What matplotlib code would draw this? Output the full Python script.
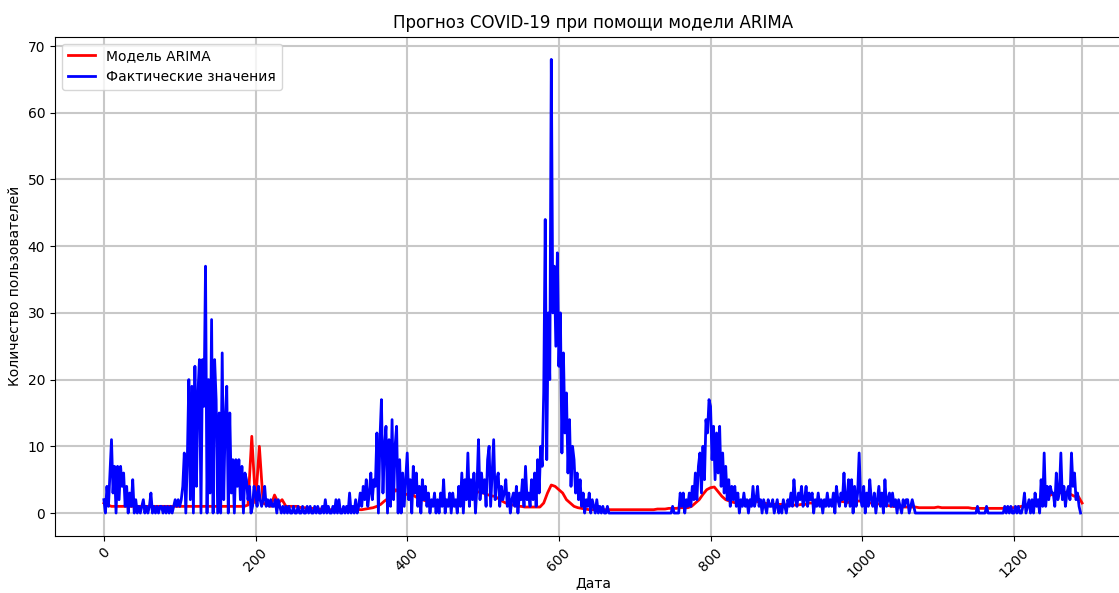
import numpy as np
import matplotlib
matplotlib.use('Agg')
import matplotlib.pyplot as plt

# Фактические значения (каждые 2 дня), блоками по 100 дней
fact_000 = [2, 0, 4, 1, 6, 11, 3, 7, 0, 7, 2, 7, 4, 6, 1, 4, 0, 3, 1, 5, 0, 2, 0, 1, 0,
            1, 2, 0, 1, 0, 1, 3, 0, 1, 0, 1, 0, 1, 1, 0, 1, 0, 1, 0, 1, 0, 1, 2, 1, 2]
fact_100 = [1, 2, 4, 9, 0, 8, 20, 2, 19, 0, 22, 4, 18, 23, 0, 23, 16, 37, 0, 20,
            3, 29, 0, 23, 17, 0, 15, 0, 24, 2, 14, 19, 0, 15, 3, 8, 0, 8, 4, 8,
            2, 7, 0, 6, 5, 2, 4, 0, 1, 4]
fact_200 = [3, 1, 4, 2, 1, 2, 4, 1, 2, 1, 2, 1, 1, 2, 0, 2, 1, 0, 1, 0,
            1, 0, 1, 0, 0, 1, 0, 0, 1, 0, 0, 1, 0, 0, 1, 0, 1, 0, 0, 1,
            0, 1, 0, 0, 1, 0, 2, 0, 1, 0]
fact_300 = [0, 1, 0, 2, 0, 2, 0, 0, 1, 0, 1, 0, 3, 0, 1, 0, 2, 0, 1, 3,
            1, 4, 2, 5, 1, 3, 6, 2, 5, 4, 12, 0, 11, 17, 3, 10, 13, 0, 11, 1,
            14, 2, 10, 13, 0, 8, 0, 6, 1, 5]
fact_400 = [9, 2, 5, 0, 7, 3, 6, 1, 4, 0, 5, 2, 4, 1, 3, 0, 2, 1, 3, 0,
            2, 0, 3, 1, 5, 0, 2, 1, 3, 0, 3, 1, 2, 0, 4, 1, 6, 0, 5, 2,
            9, 1, 5, 2, 6, 0, 4, 11, 2, 6]
fact_500 = [3, 5, 1, 8, 10, 1, 6, 11, 2, 5, 6, 1, 4, 2, 3, 5, 1, 3, 0, 2,
            3, 1, 4, 0, 3, 2, 5, 1, 7, 2, 3, 1, 5, 2, 6, 1, 8, 3, 10, 7,
            18, 44, 8, 30, 20, 68, 30, 37, 25, 39]
fact_600 = [22, 30, 9, 24, 12, 18, 6, 14, 4, 10, 8, 3, 6, 2, 5, 1, 3, 0, 2, 1,
            3, 0, 2, 1, 0, 2, 0, 1, 0, 1, 0, 0, 1, 0, 0, 0, 0, 0, 0, 0,
            0, 0, 0, 0, 0, 0, 0, 0, 0, 0]
fact_700 = [0, 0, 0, 0, 0, 0, 0, 0, 0, 0, 0, 0, 0, 0, 0, 0, 0, 0, 0, 0,
            0, 0, 0, 0, 0, 1, 0, 0, 0, 0, 3, 1, 3, 0, 2, 1, 3, 1, 4, 2,
            6, 2, 7, 9, 3, 10, 5, 14, 12, 17]
fact_800 = [16, 8, 13, 5, 12, 6, 13, 4, 9, 3, 7, 2, 5, 1, 4, 2, 4, 1, 3, 0,
            2, 1, 3, 1, 2, 0, 2, 1, 4, 1, 2, 4, 1, 2, 0, 2, 1, 0, 2, 1,
            1, 2, 0, 1, 2, 0, 1, 0, 2, 1]
fact_900 = [0, 2, 1, 3, 1, 5, 2, 1, 3, 2, 4, 1, 2, 4, 1, 3, 2, 3, 0, 2,
            1, 3, 1, 2, 0, 2, 1, 3, 1, 2, 1, 3, 0, 4, 2, 1, 3, 2, 6, 1,
            2, 5, 1, 5, 0, 4, 1, 3, 9, 2]
fact_1000 = [1, 4, 0, 3, 1, 5, 2, 1, 3, 0, 2, 4, 1, 3, 0, 5, 1, 2, 3, 1,
             3, 1, 2, 0, 2, 1, 0, 2, 1, 2, 2, 0, 1, 2, 1, 0, 0, 0, 0, 0,
             0, 0, 0, 0, 0, 0, 0, 0, 0, 0]
fact_1100 = [0, 0, 0, 0, 0, 0, 0, 0, 0, 0, 0, 0, 0, 0, 0, 0, 0, 0, 0, 0,
             0, 0, 0, 0, 0, 0, 1, 0, 0, 0, 0, 0, 1, 0, 0, 0, 0, 0, 0, 0,
             0, 0, 0, 0, 1, 0, 1, 0, 1, 0]
fact_1200 = [0, 1, 0, 1, 0, 0, 1, 3, 0, 1, 2, 0, 2, 0, 3, 1, 2, 0, 5, 1,
             9, 1, 4, 2, 4, 3, 3, 1, 6, 2, 3, 9, 2, 4, 1, 3, 4, 2, 9, 4,
             6, 2, 3, 1, 0]

# Модель ARIMA (каждые 5 дней)
arima_000 = [1.5, 1.2, 1.0, 1.0, 1.0, 1.0, 1.0, 1.0, 1.0, 1.0, 1.0, 1.0, 1.0, 1.0, 1.0, 1.0, 1.0, 1.0, 1.0, 1.0,
             1.0, 1.0, 1.0, 1.0, 1.0, 1.0, 1.0, 1.0, 1.0, 1.0, 1.0, 1.0, 1.0, 1.0, 1.0, 1.0, 1.0, 1.0, 1.2, 11.5]
arima_200 = [1.5, 10.0, 1.5, 1.2, 1.0, 2.7, 1.5, 2.0, 1.0, 1.0, 1.0, 1.0, 0.8, 0.8, 0.7, 0.7, 0.6, 0.6, 0.5, 0.5,
             0.5, 0.5, 0.5, 0.5, 0.5, 0.5, 0.5, 0.5, 0.5, 0.6, 0.7, 0.8, 1.0, 1.3, 1.8, 2.2, 2.8, 3.5, 3.0, 2.8]
arima_400 = [2.8, 3.0, 2.5, 2.2, 2.0, 1.8, 1.8, 1.6, 1.5, 1.5, 1.5, 1.5, 1.6, 1.8, 2.0, 2.2, 2.5, 2.8, 3.0, 3.2,
             3.0, 2.8, 2.6, 2.5, 2.2, 1.8, 1.5, 1.3, 1.2, 1.0, 1.0, 0.9, 0.9, 0.9, 0.9, 0.9, 1.5, 3.0, 4.2, 4.0]
arima_600 = [3.5, 3.0, 2.0, 1.5, 1.0, 0.8, 0.7, 0.6, 0.5, 0.5, 0.5, 0.5, 0.5, 0.5, 0.5, 0.5, 0.5, 0.5, 0.5, 0.5,
             0.5, 0.5, 0.5, 0.5, 0.5, 0.5, 0.6, 0.6, 0.6, 0.7, 0.7, 0.7, 0.8, 0.8, 0.8, 1.0, 1.5, 2.0, 2.8, 3.5]
arima_800 = [3.8, 3.9, 3.2, 2.5, 2.0, 1.8, 1.6, 1.5, 1.5, 1.6, 1.8, 1.9, 1.8, 1.6, 1.5, 1.4, 1.3, 1.3, 1.3, 1.3,
             1.2, 1.2, 1.2, 1.2, 1.3, 1.3, 1.5, 1.5, 1.6, 1.6, 1.5, 1.5, 1.6, 1.8, 1.8, 1.7, 1.6, 1.6, 1.7, 1.8]
arima_1000 = [1.8, 1.7, 1.5, 1.5, 1.4, 1.3, 1.2, 1.1, 1.0, 1.0, 0.9, 0.9, 0.9, 0.9, 0.9, 0.8, 0.8, 0.8, 0.8, 0.8,
              0.9, 0.8, 0.8, 0.8, 0.8, 0.8, 0.8, 0.8, 0.8, 0.7, 0.7, 0.7, 0.7, 0.7, 0.7, 0.7, 0.7, 0.7, 0.8, 0.8]
arima_1200 = [0.8, 0.9, 1.0, 1.0, 1.1, 1.2, 1.5, 1.8, 2.2, 2.5, 2.8, 2.7, 3.0, 3.2, 3.0, 2.8, 2.5, 2.5, 1.5]

fact = (fact_000 + fact_100 + fact_200 + fact_300 + fact_400 + fact_500 + fact_600
        + fact_700 + fact_800 + fact_900 + fact_1000 + fact_1100 + fact_1200)
arima = arima_000 + arima_200 + arima_400 + arima_600 + arima_800 + arima_1000 + arima_1200

fact_days = np.arange(len(fact)) * 2
arima_days = np.arange(len(arima)) * 5

fig = plt.figure(figsize=(11.19, 5.93), dpi=100)
ax = fig.add_axes([55 / 1119, 0.0966, 1076 / 1119, 0.8415])

ax.plot(arima_days, arima, color='red', linewidth=2, label='Модель ARIMA')
ax.plot(fact_days, fact, color='blue', linewidth=2, label='Фактические значения')

# серая вертикальная линия в конце ряда, как на исходном рисунке
ax.axvline(arima_days[-1], color='#c8c8c8', linewidth=1.5, zorder=0)
ax.set_title('Прогноз COVID-19 при помощи модели ARIMA')
ax.set_xlabel('Дата', labelpad=-3)
ax.set_ylabel('Количество пользователей')
ax.tick_params(axis='x', labelrotation=45)
ax.grid(True, color='#c8c8c8', linewidth=1.5)
ax.legend(loc='upper left')

fig.savefig('out.png', dpi=100)
